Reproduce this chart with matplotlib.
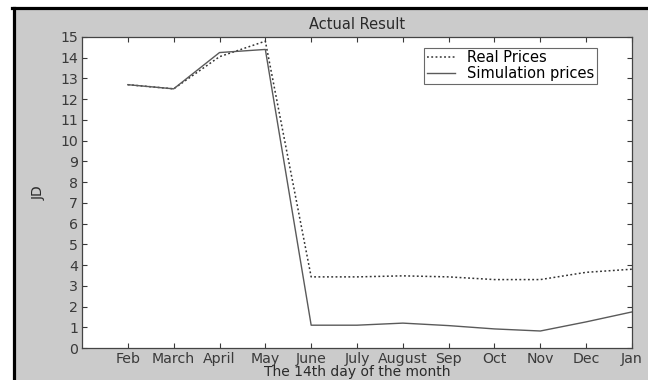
import numpy as np
import matplotlib
matplotlib.use("Agg")
from matplotlib import pyplot as plt
from matplotlib.patches import Rectangle
from matplotlib.lines import Line2D

# Monthly prices, 14th day of each month
months = ['Feb', 'March', 'April', 'May', 'June', 'July', 'August', 'Sep', 'Oct', 'Nov', 'Dec', 'Jan']
real_prices = [12.7, 12.5, 14.05, 14.8, 3.43, 3.43, 3.48, 3.43, 3.3, 3.3, 3.65, 3.8]
sim_prices = [12.7, 12.5, 14.25, 14.4, 1.1, 1.1, 1.2, 1.08, 0.92, 0.82, 1.26, 1.74]
y_ticks = list(range(0, 16))

plt.rcParams['font.family'] = ['DejaVu Sans']

W, H = 648, 380
fig = plt.figure(figsize=(W / 100, H / 100), dpi=100)
fig.patch.set_facecolor('white')

# grey window background with dark frame on top / left
fig.add_artist(Rectangle((14 / W, 0), 1 - 14 / W, 1 - 7 / H, transform=fig.transFigure,
                         facecolor='#cbcbcb', edgecolor='none', lw=0, zorder=0))
fig.add_artist(Line2D([12 / W, 1], [1 - 7.5 / H, 1 - 7.5 / H], transform=fig.transFigure,
                      color='black', lw=2.3))
fig.add_artist(Line2D([13.5 / W, 13.5 / W], [0, 1 - 7.5 / H], transform=fig.transFigure,
                      color='black', lw=2.3))

left, right, top, bottom = 82, 632, 37, 348
ax = fig.add_axes([left / W, 1 - bottom / H, (right - left) / W, (bottom - top) / H])
ax.set_facecolor('white')

x = np.arange(1, len(months) + 1)
ax.plot(x, real_prices, linestyle=(0, (1.2, 1.6)), color='#333333', lw=1.1, label='Real Prices')
ax.plot(x, sim_prices, linestyle='-', color='#5a5a5a', lw=1.0, label='Simulation prices')

ax.set_xlim(0, 12)
ax.set_ylim(0, 15)
ax.set_xticks(x)
ax.set_xticklabels(months)
ax.set_yticks(y_ticks)
ax.tick_params(direction='in', top=True, right=True, length=3.5, width=0.8,
               labelsize=10.2, colors='#3a3a3a', pad=3)
for s in ax.spines.values():
    s.set_color('#444444')
    s.set_linewidth(0.9)

ax.set_title('Actual Result', fontsize=10.5, color='#2a2a2a', pad=6)
ax.set_xlabel('The 14th day of the month', fontsize=10, color='#2a2a2a', labelpad=-1)
ax.set_ylabel('JD', fontsize=10, color='#2a2a2a', labelpad=10)

leg = ax.legend(loc='upper right', bbox_to_anchor=(0.936, 0.966), fontsize=10.5, frameon=True,
                fancybox=False, edgecolor='#444444', handlelength=1.9, handletextpad=0.8,
                borderpad=0.2, labelspacing=0.05, borderaxespad=0)
leg.get_frame().set_linewidth(0.8)

plt.savefig('out.png', dpi=100, facecolor=fig.get_facecolor())
